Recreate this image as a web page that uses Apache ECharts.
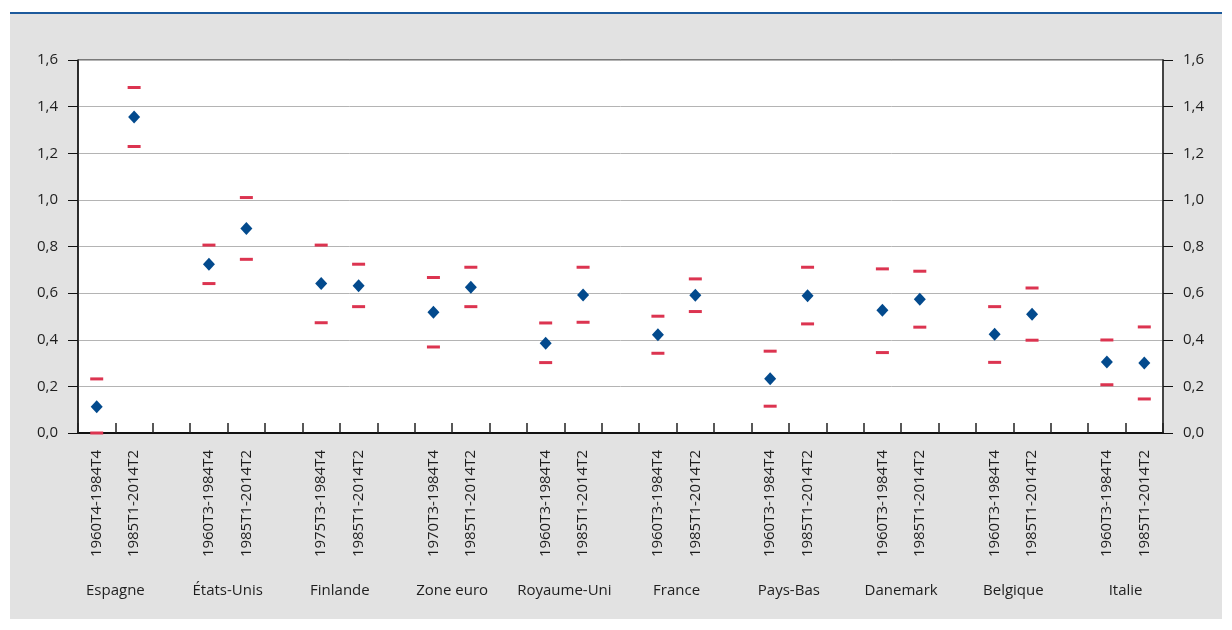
<!DOCTYPE html>
<html>
<head>
<meta charset="utf-8">
<script src="https://cdn.jsdelivr.net/npm/echarts@6/dist/echarts.min.js"></script>
<style>
html,body{margin:0;padding:0;background:#fff;}
#c1{width:1232px;height:630px;}
</style>
</head>
<body>
<div id="c1"></div>
<script type="text/javascript">
// pays, dans l'ordre du graphique
var countries = ['Espagne', 'États-Unis', 'Finlande', 'Zone euro', 'Royaume-Uni', 'France', 'Pays-Bas', 'Danemark', 'Belgique', 'Italie'];
// deux périodes par pays
var periods = [
  '1960T4-1984T4', '1985T1-2014T2',
  '1960T3-1984T4', '1985T1-2014T2',
  '1975T3-1984T4', '1985T1-2014T2',
  '1970T3-1984T4', '1985T1-2014T2',
  '1960T3-1984T4', '1985T1-2014T2',
  '1960T3-1984T4', '1985T1-2014T2',
  '1960T3-1984T4', '1985T1-2014T2',
  '1960T3-1984T4', '1985T1-2014T2',
  '1960T3-1984T4', '1985T1-2014T2',
  '1960T3-1984T4', '1985T1-2014T2'
];
// estimation ponctuelle
var estimate = [0.113, 1.355, 0.724, 0.877, 0.641, 0.632, 0.518, 0.625, 0.385, 0.592, 0.421, 0.591, 0.233, 0.589, 0.527, 0.574, 0.424, 0.509, 0.305, 0.300];
// bornes de l'intervalle
var upper = [0.232, 1.482, 0.806, 1.010, 0.806, 0.724, 0.667, 0.711, 0.472, 0.711, 0.501, 0.661, 0.351, 0.711, 0.704, 0.694, 0.542, 0.622, 0.399, 0.455];
var lower = [0.000, 1.229, 0.641, 0.745, 0.473, 0.542, 0.369, 0.542, 0.302, 0.475, 0.342, 0.521, 0.115, 0.468, 0.345, 0.454, 0.303, 0.398, 0.207, 0.146];
var yTicks = ['0,0', '0,2', '0,4', '0,6', '0,8', '1,0', '1,2', '1,4', '1,6'];

// 3 cases par pays (2 périodes + 1 vide), sauf après le dernier
var slots = [], est = [], hi = [], lo = [];
for (var i = 0; i < countries.length; i++) {
  for (var k = 0; k < 2; k++) {
    var j = i * 2 + k;
    slots.push(periods[j]); est.push(estimate[j]); hi.push(upper[j]); lo.push(lower[j]);
  }
  if (i < countries.length - 1) {
    slots.push(''); est.push('-'); hi.push('-'); lo.push('-');
  }
}
// axe des pays : demi-cases, le nom tombe entre les deux périodes
var countrySlots = [];
for (var h = 0; h <= slots.length * 2; h++) countrySlots.push('');
for (var i = 0; i < countries.length; i++) countrySlots[6 * i + 2] = countries[i];

var font = '"Open Sans", sans-serif';
var txt = '#1e1e1e';

var chart = echarts.init(document.getElementById('c1'));
var option = {
  backgroundColor: '#fff',
  animation: false,
  graphic: [
    { type: 'rect', left: 10, top: 13, shape: { width: 1212, height: 606 }, style: { fill: '#e2e2e2' }, silent: true, z: -10 },
    { type: 'rect', left: 10, top: 12, shape: { width: 1212, height: 2 }, style: { fill: '#1d5a9c' }, silent: true, z: -9 }
  ],
  grid: {
    left: 78, right: 69, top: 60, bottom: 197,
    show: true, backgroundColor: '#fff', borderColor: '#111', borderWidth: 1
  },
  xAxis: [
    {
      type: 'category', data: slots, boundaryGap: true,
      axisLine: { lineStyle: { color: '#111', width: 2 } },
      axisTick: { show: true, inside: true, length: 10, interval: 0, lineStyle: { color: '#222', width: 1.5 } },
      axisLabel: { interval: 0, rotate: 90, margin: 17, fontSize: 15, fontFamily: font, color: txt }
    },
    {
      type: 'category', data: countrySlots, boundaryGap: false, position: 'bottom',
      axisLine: { show: false }, axisTick: { show: false },
      axisLabel: { interval: 0, margin: 150, fontSize: 15, fontFamily: font, color: txt }
    }
  ],
  yAxis: [
    {
      type: 'value', min: 0, max: 1.6, interval: 0.2, position: 'left',
      axisLine: { show: true, lineStyle: { color: '#111', width: 1.5 } },
      axisTick: { show: true, length: 10, lineStyle: { color: '#111' } },
      splitLine: { show: true, lineStyle: { color: '#b4b4b4', width: 1 } },
      axisLabel: { margin: 20, fontSize: 15, fontFamily: font, color: txt,
        formatter: function (v) { return yTicks[Math.round(v / 0.2)]; } }
    },
    {
      type: 'value', min: 0, max: 1.6, interval: 0.2, position: 'right',
      axisLine: { show: true, lineStyle: { color: '#444', width: 2 } },
      axisTick: { show: true, length: 10, lineStyle: { color: '#111' } },
      splitLine: { show: false },
      axisLabel: { margin: 20, fontSize: 15, fontFamily: font, color: txt,
        formatter: function (v) { return yTicks[Math.round(v / 0.2)]; } }
    }
  ],
  series: [
    {
      name: 'haut', type: 'scatter', data: hi, symbol: 'rect', symbolSize: [13, 3],
      itemStyle: { color: '#dc3450', opacity: 1 }, z: 3
    },
    {
      name: 'bas', type: 'scatter', data: lo, symbol: 'rect', symbolSize: [13, 3],
      itemStyle: { color: '#dc3450', opacity: 1 }, z: 3
    },
    {
      name: 'estimation', type: 'scatter', data: est, symbol: 'diamond', symbolSize: [12, 13],
      itemStyle: { color: '#034a8d', opacity: 1 }, z: 4
    }
  ]
};
chart.setOption(option);
</script>
</body>
</html>
